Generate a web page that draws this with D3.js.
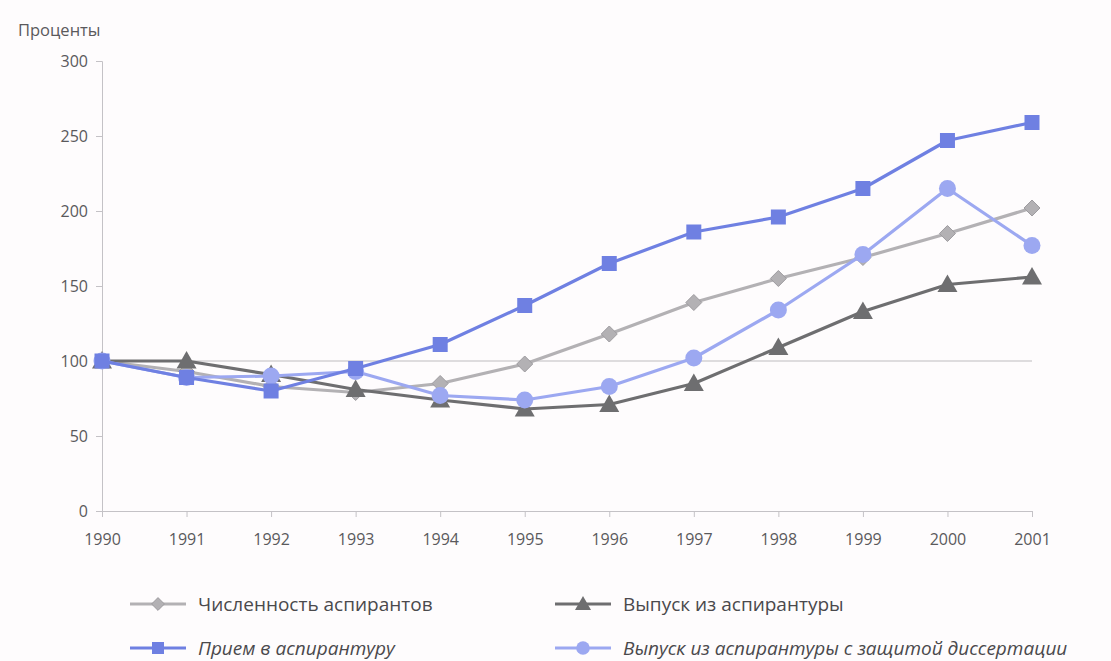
<!DOCTYPE html>
<html lang="ru">
<head>
<meta charset="UTF-8">
<title>Аспирантура</title>
<style>
  body { margin: 0; background: #fefcfd; }
  svg { display: block; font-family: "Open Sans", "DejaVu Sans", sans-serif; }
</style>
</head>
<body>
<svg width="1111" height="661"></svg>
<script src="https://d3js.org/d3.v7.min.js"></script>
<script>
var years = [1990, 1991, 1992, 1993, 1994, 1995, 1996, 1997, 1998, 1999, 2000, 2001];
var yTicks = [0, 50, 100, 150, 200, 250, 300];

// индексы, 1990 = 100
var chislennost = [100, 93, 83, 79, 85, 98, 118, 139, 155, 169, 185, 202];
var priem       = [100, 89, 80, 95, 111, 137, 165, 186, 196, 215, 247, 259];
var vypusk      = [100, 100, 91, 81, 74, 68, 71, 85, 109, 133, 151, 156];
var zaschita    = [100, 89, 90, 93, 77, 74, 83, 102, 134, 171, 215, 177];

var series = [
  { name: 'Численность аспирантов', values: chislennost, color: '#b3b1b4', marker: 'diamond', italic: false },
  { name: 'Выпуск из аспирантуры', values: vypusk, color: '#6e6e70', marker: 'triangle', italic: false },
  { name: 'Прием в аспирантуру', values: priem, color: '#6f80e2', marker: 'square', italic: true },
  { name: 'Выпуск из аспирантуры с защитой диссертации', values: zaschita, color: '#9ca8f1', marker: 'circle', italic: true }
];
// порядок отрисовки
var drawOrder = [0, 1, 3, 2];

var svg = d3.select('svg');

var x = d3.scaleLinear().domain([1990, 2001]).range([102, 1032]);
var y = d3.scaleLinear().domain([0, 300]).range([511, 61]);

var axisColor = '#c4c2c6';
var textColor = '#5a595c';

// заголовок оси
svg.append('text')
  .attr('x', 18).attr('y', 36)
  .attr('font-size', 16.5)
  .attr('fill', textColor)
  .text('Проценты');

// ось Y
var yAxis = svg.append('g')
  .attr('transform', 'translate(102,0)')
  .call(d3.axisLeft(y).tickValues(yTicks).tickSize(6).tickPadding(8));
yAxis.select('.domain').attr('stroke', axisColor);
yAxis.selectAll('line').attr('stroke', axisColor);
yAxis.selectAll('text').attr('fill', textColor).attr('font-size', 16)
  .attr('font-family', '"Open Sans", sans-serif');

// ось X
var xAxis = svg.append('g')
  .attr('transform', 'translate(0,511)')
  .call(d3.axisBottom(x).tickValues(years).tickFormat(d3.format('d')).tickSize(6).tickSizeOuter(0).tickPadding(17));
xAxis.select('.domain').attr('stroke', axisColor);
xAxis.selectAll('line').attr('stroke', axisColor);
xAxis.selectAll('text').attr('fill', textColor).attr('font-size', 16)
  .attr('font-family', '"Open Sans", sans-serif');

// линия 100%
svg.append('line')
  .attr('x1', x(1990)).attr('x2', x(2001))
  .attr('y1', y(100)).attr('y2', y(100))
  .attr('stroke', '#bdbbbf').attr('stroke-width', 1.2);

var line = d3.line()
  .x(function(d, i) { return x(years[i]); })
  .y(function(d) { return y(d); });

function drawMarker(g, type, cx, cy, color, big) {
  var k = big ? 1 : 0.8;
  if (type === 'square') {
    var s = 15 * k;
    g.append('rect').attr('x', cx - s / 2).attr('y', cy - s / 2)
      .attr('width', s).attr('height', s).attr('fill', color);
  } else if (type === 'circle') {
    g.append('circle').attr('cx', cx).attr('cy', cy).attr('r', 8.5 * k).attr('fill', color);
  } else if (type === 'diamond') {
    var r = 8 * k;
    g.append('path')
      .attr('d', 'M' + cx + ',' + (cy - r) + 'L' + (cx + r) + ',' + cy + 'L' + cx + ',' + (cy + r) + 'L' + (cx - r) + ',' + cy + 'Z')
      .attr('fill', color).attr('stroke', '#9e9ca0').attr('stroke-width', 1);
  } else if (type === 'triangle') {
    var t = 10 * k;
    g.append('path')
      .attr('d', 'M' + cx + ',' + (cy - t) + 'L' + (cx + t) + ',' + (cy + t * 0.75) + 'L' + (cx - t) + ',' + (cy + t * 0.75) + 'Z')
      .attr('fill', color);
  }
}

drawOrder.forEach(function(idx) {
  var s = series[idx];
  var g = svg.append('g');
  g.append('path')
    .datum(s.values)
    .attr('d', line)
    .attr('fill', 'none')
    .attr('stroke', s.color)
    .attr('stroke-width', 3.2)
    .attr('stroke-linejoin', 'round');
  s.values.forEach(function(v, i) {
    drawMarker(g, s.marker, x(years[i]), y(v), s.color, true);
  });
});

// легенда
var legendPos = [
  { x: 130, y: 604 },
  { x: 555, y: 604 },
  { x: 130, y: 648 },
  { x: 555, y: 648 }
];
series.forEach(function(s, i) {
  var p = legendPos[i];
  var g = svg.append('g');
  g.append('line')
    .attr('x1', p.x).attr('x2', p.x + 56)
    .attr('y1', p.y).attr('y2', p.y)
    .attr('stroke', s.color).attr('stroke-width', 3);
  drawMarker(g, s.marker, p.x + 28, p.y, s.color, false);
  g.append('text')
    .attr('x', p.x + 68).attr('y', p.y + 7)
    .attr('font-size', 19)
    .attr('fill', '#4a494c')
    .attr('font-style', s.italic ? 'italic' : 'normal')
    .text(s.name);
});
</script>
</body>
</html>
